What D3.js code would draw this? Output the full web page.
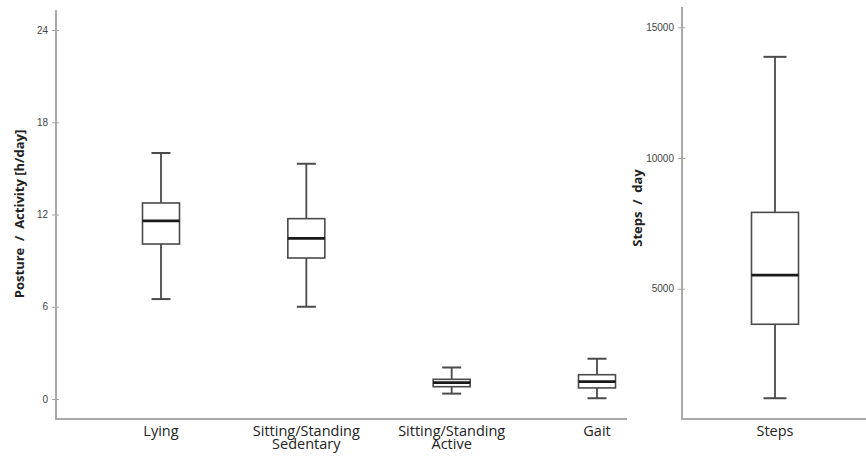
<!DOCTYPE html>
<html>
<head>
<meta charset="utf-8">
<script src="https://cdn.jsdelivr.net/npm/d3@7"></script>
<style>
  body { margin: 0; background: #fff; }
  svg { display: block; font-family: "DejaVu Sans", sans-serif; }
</style>
</head>
<body>
<div id="chart"></div>
<script>
// posture / activity categories (h/day)
const categories = ['Lying', 'Sitting/Standing\nSedentary', 'Sitting/Standing\nActive', 'Gait'];
const whiskerLow  = [6.5, 6.0, 0.35, 0.05];
const q1          = [10.08, 9.17, 0.8, 0.72];
const median      = [11.58, 10.45, 1.06, 1.13];
const q3          = [12.75, 11.73, 1.28, 1.58];
const whiskerHigh = [16.0, 15.3, 2.05, 2.62];
const hourTicks   = [0, 6, 12, 18, 24];

// steps per day
const stepCategory = ['Steps'];
const stepLow    = [810];
const stepQ1     = [3640];
const stepMedian = [5520];
const stepQ3     = [7920];
const stepHigh   = [13870];
const stepTicks  = [5000, 10000, 15000];

const W = 866, H = 456;
const axisColor = '#a8a8a8';
const boxColor = '#4a4a4a';

const svg = d3.select('#chart').append('svg')
  .attr('width', W).attr('height', H);

function panel(opts) {
  const g = svg.append('g');
  const y = opts.y;
  const x = opts.x;

  // y axis line
  g.append('line')
    .attr('x1', opts.axisX).attr('x2', opts.axisX)
    .attr('y1', opts.top).attr('y2', opts.base)
    .attr('stroke', axisColor).attr('stroke-width', 2);
  // baseline
  g.append('line')
    .attr('x1', opts.axisX - 1).attr('x2', opts.right)
    .attr('y1', opts.base).attr('y2', opts.base)
    .attr('stroke', axisColor).attr('stroke-width', 2);

  const yAxis = d3.axisLeft(y).tickValues(opts.ticks).tickSize(0).tickPadding(0)
    .tickFormat(d3.format('d'));
  const ag = g.append('g').attr('transform', `translate(${opts.axisX},0)`).call(yAxis);
  ag.select('.domain').remove();
  ag.selectAll('.tick text')
    .attr('x', -8).attr('fill', '#444').style('font-size', '10px')
    .style('font-family', '"Liberation Sans", sans-serif');
  ag.selectAll('.tick').append('line')
    .attr('x1', -4).attr('x2', 3)
    .attr('stroke', axisColor).attr('stroke-width', 1);

  // y title
  g.append('text')
    .attr('transform', `translate(${opts.titleX},${opts.titleY}) rotate(-90)`)
    .attr('text-anchor', 'middle')
    .style('font-size', '13px').style('font-weight', 'bold')
    .style('font-family', '"Open Sans", sans-serif')
    .attr('fill', '#222')
    .attr('xml:space', 'preserve')
    .text(opts.title);

  // category labels
  opts.cats.forEach(c => {
    const lines = c.split('\n');
    const t = g.append('text')
      .attr('text-anchor', 'middle')
      .attr('fill', '#222')
      .style('font-size', '14.5px')
      .style('font-family', '"Open Sans", sans-serif');
    lines.forEach((l, i) => {
      t.append('tspan').attr('x', x(c)).attr('y', opts.base + 17 + i * 13).text(l);
    });
  });

  // boxes
  opts.cats.forEach((c, i) => {
    const cx = x(c);
    const bw = opts.boxW, cw = opts.capW;
    const lo = opts.lo[i], a = opts.q1[i], m = opts.med[i], b = opts.q3[i], hi = opts.hi[i];
    g.append('line').attr('x1', cx).attr('x2', cx).attr('y1', y(hi)).attr('y2', y(b))
      .attr('stroke', boxColor).attr('stroke-width', 1.8);
    g.append('line').attr('x1', cx).attr('x2', cx).attr('y1', y(a)).attr('y2', y(lo))
      .attr('stroke', boxColor).attr('stroke-width', 1.8);
    [hi, lo].forEach(v => {
      g.append('line').attr('x1', cx - cw / 2).attr('x2', cx + cw / 2)
        .attr('y1', y(v)).attr('y2', y(v))
        .attr('stroke', boxColor).attr('stroke-width', 2);
    });
    g.append('rect')
      .attr('x', cx - bw / 2).attr('width', bw)
      .attr('y', y(b)).attr('height', y(a) - y(b))
      .attr('fill', '#fff').attr('stroke', boxColor).attr('stroke-width', 1.6);
    g.append('line').attr('x1', cx - bw / 2).attr('x2', cx + bw / 2)
      .attr('y1', y(m)).attr('y2', y(m))
      .attr('stroke', '#1a1a1a').attr('stroke-width', 2.8);
  });
}

// left panel
const yHours = d3.scaleLinear().domain([0, 24]).range([399, 30]);
const xCat = d3.scalePoint().domain(categories).range([161, 597]);
panel({
  x: xCat, y: yHours, cats: categories, ticks: hourTicks,
  lo: whiskerLow, q1: q1, med: median, q3: q3, hi: whiskerHigh,
  axisX: 56, top: 10, base: 419, right: 627,
  boxW: 37, capW: 19,
  title: 'Posture  /  Activity [h/day]', titleX: 24, titleY: 214
});

// right panel
const ySteps = d3.scaleLinear().domain([5000, 15000]).range([288.7, 27.3]);
const xSteps = d3.scalePoint().domain(stepCategory).range([775, 775]);
panel({
  x: xSteps, y: ySteps, cats: stepCategory, ticks: stepTicks,
  lo: stepLow, q1: stepQ1, med: stepMedian, q3: stepQ3, hi: stepHigh,
  axisX: 682, top: 7, base: 419, right: 866,
  boxW: 47, capW: 23,
  title: 'Steps  /  day', titleX: 642, titleY: 208
});
</script>
</body>
</html>
